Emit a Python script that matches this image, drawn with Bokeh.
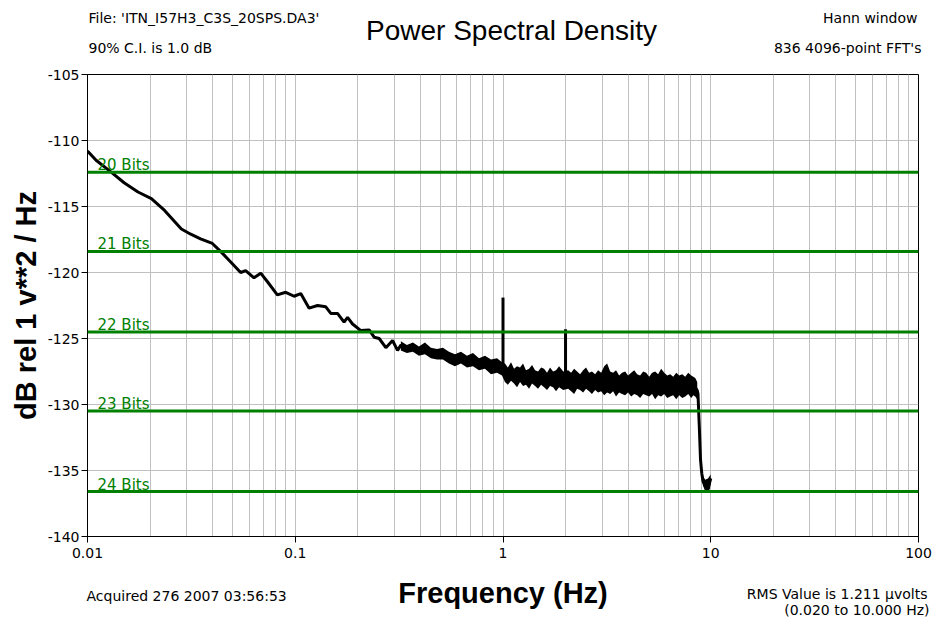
from bokeh.plotting import figure
from bokeh.models import FixedTicker, Label, Span, Range1d
from bokeh.layouts import column, row
from bokeh.core.properties import value
from bokeh.embed import file_html
from bokeh.resources import INLINE

# ---------------- data ----------------
x_major = [0.01, 0.1, 1, 10, 100]
x_tick_labels = ["0.01", "0.1", "1", "10", "100"]
x_minor = [m * d for d in [0.01, 0.1, 1, 10] for m in [2, 3, 4, 5, 6, 7, 8, 9]]
y_ticks = [-105, -110, -115, -120, -125, -130, -135, -140]
y_tick_labels = ["-105", "-110", "-115", "-120", "-125", "-130", "-135", "-140"]

bits_names = ["20 Bits", "21 Bits", "22 Bits", "23 Bits", "24 Bits"]
bits_db = [-112.4, -118.4, -124.5, -130.5, -136.6]

# smooth low-frequency part of the trace
trace_f = [0.0100, 0.0110, 0.0130, 0.0150, 0.0175, 0.0203, 0.0235, 0.0283, 0.0314,
           0.0350, 0.0399, 0.0437, 0.0489, 0.0546, 0.0577, 0.0633, 0.0682, 0.0735,
           0.0820, 0.0900, 0.0987, 0.1063, 0.1166, 0.1280, 0.1403, 0.1483, 0.1597,
           0.1718, 0.1786, 0.1887, 0.2069, 0.2268, 0.2398, 0.2535, 0.2730, 0.2940,
           0.3108, 0.3224]
trace_db = [-110.8, -111.5, -112.4, -113.2, -113.9, -114.4, -115.3, -116.7, -117.1,
            -117.45, -117.8, -118.4, -119.2, -120.0, -119.85, -120.4, -120.05, -120.7,
            -121.7, -121.5, -121.8, -121.6, -122.7, -122.5, -122.6, -123.1, -123.1,
            -123.76, -123.4, -123.9, -124.4, -124.35, -124.9, -125.0, -125.7, -125.15,
            -125.9, -125.5]

# noisy part: upper / lower envelope of the trace
band_f = [0.3224, 0.3445, 0.3684, 0.3938, 0.4209, 0.4498, 0.4808, 0.5138, 0.5493,
          0.5871, 0.6275, 0.6707, 0.7169, 0.7662, 0.8190, 0.8754, 0.9357, 0.989,
          1.022, 1.055, 1.093, 1.130, 1.168, 1.208, 1.249, 1.290, 1.335, 1.380, 1.427,
          1.475, 1.525, 1.576, 1.629, 1.685, 1.742, 1.800, 1.862, 1.95,
          2.06, 2.127, 2.20, 2.274, 2.35, 2.430, 2.51, 2.597, 2.68, 2.776, 2.87, 2.967,
          3.07, 3.171, 3.28, 3.389, 3.50, 3.622, 3.74, 3.873, 4.00, 4.139, 4.28,
          4.424, 4.57, 4.728, 4.89, 5.053, 5.22, 5.401, 5.58, 5.773, 5.97, 6.172,
          6.38, 6.596, 6.82, 7.050, 7.29, 7.535, 7.79, 8.054, 8.24, 8.42, 8.61]
band_hi = [-125.2, -125.5, -125.3, -125.6, -125.3, -125.7, -125.8, -125.7, -126.0,
           -126.2, -126.0, -126.3, -126.1, -126.5, -126.3, -126.6, -126.5, -126.8,
           -126.9, -127.2, -126.8, -127.3, -127.1, -127.2, -126.9, -127.4, -127.3, -127.0, -127.4,
           -127.5, -127.2, -127.3, -127.6, -127.2, -127.5, -127.4, -127.1, -127.5,
           -127.4, -127.6, -127.3, -127.5, -127.7, -127.4, -127.2, -127.6, -127.5, -127.7, -127.4, -127.6,
           -127.1, -126.9, -127.5, -127.6, -127.4, -127.8, -127.6, -127.5, -127.8, -127.6, -127.4,
           -127.7, -127.8, -127.5, -127.6, -127.9, -127.6, -127.5, -127.7, -127.3, -127.6, -127.8,
           -127.7, -127.9, -127.6, -127.8, -127.7, -127.9, -127.6, -127.8, -127.9, -128.0, -128.3]
band_lo = [-125.9, -126.1, -126.0, -126.3, -126.2, -126.5, -126.6, -126.6, -126.9,
           -127.1, -126.9, -127.2, -127.1, -127.4, -127.3, -127.7, -127.6, -127.8,
           -128.3, -128.5, -128.2, -128.4, -128.7, -128.3, -128.6, -128.5, -128.8, -128.4, -128.6,
           -128.8, -128.5, -128.7, -128.9, -128.6, -128.7, -129.0, -128.7, -128.9,
           -128.8, -129.0, -129.2, -128.8, -128.9, -129.1, -128.8, -129.0, -129.2, -128.9, -129.1, -129.0,
           -129.3, -129.1, -129.2, -129.0, -129.4, -129.1, -129.2, -129.3, -129.1, -129.4, -129.2,
           -129.3, -129.5, -129.2, -129.3, -129.4, -129.2, -129.6, -129.3, -129.4, -129.2, -129.5,
           -129.4, -129.3, -129.6, -129.3, -129.5, -129.4, -129.2, -129.5, -129.3, -129.4, -129.6]

# anti-alias roll-off
drop_f = [8.68, 8.80, 8.93, 9.05, 9.17, 9.40, 9.69, 9.85, 10.0]
drop_db = [-129.2, -131.5, -134.2, -135.2, -135.8, -136.2, -136.3, -136.0, -135.6]
tail_f = [9.17, 9.40, 9.70, 9.90, 10.0]
tail_hi = [-135.4, -135.7, -135.6, -135.4, -135.3]
tail_lo = [-136.1, -136.6, -136.6, -136.4, -136.0]

# calibration lines
spike_f = [1.0, 2.0]
spike_base = [-127.6, -128.0]
spike_top = [-121.9, -124.3]

# header / footer texts
header_left = ["File: 'ITN_I57H3_C3S_20SPS.DA3'", "90% C.I. is 1.0 dB"]
header_right = ["Hann window", "836 4096-point FFT's"]
chart_title = "Power Spectral Density"
footer_left = "Acquired 276 2007 03:56:53"
footer_right = ["RMS Value is 1.211 \u00b5volts", "(0.020 to 10.000 Hz)"]
x_label = "Frequency (Hz)"
y_label = "dB rel 1 v**2 / Hz"

# ---------------- layout constants ----------------
W = 933
HEAD_H, FOOT_H = 60, 54
MAIN_TOP, FRAME_H, MAIN_BOT = 14, 462, 30
FL, FR = 87, 918
GREEN = "#008000"
GRID = "#c0c0c0"
SMALL = "DejaVu Sans"
BIG = "Liberation Sans"


def text_panel(h):
    f = figure(width=W, height=h, x_range=Range1d(0, W), y_range=Range1d(h, 0),
               x_axis_location=None, y_axis_location=None,
               output_backend="svg", toolbar_location=None,
               min_border_left=0, min_border_right=0, min_border_top=0, min_border_bottom=0)
    f.title.visible = False
    f.outline_line_color = None
    f.grid.visible = False
    f.background_fill_color = "white"
    f.border_fill_color = "white"
    return f


def put(f, text, x, y, align, size="14px", font=SMALL, style="normal"):
    f.text(x=[x], y=[y], text=[text], text_align=align, text_baseline="middle",
           text_font=value(font), text_font_size=value(size), text_font_style=style,
           text_color="black")


# header
head = text_panel(HEAD_H)
put(head, header_left[0], 88, 17, "left")
put(head, header_left[1], 88, 47, "left")
put(head, header_right[0], 917, 17, "right")
put(head, header_right[1], 921, 47, "right")
put(head, chart_title, 511, 30, "center", size="28px", font=BIG)

# main plot
p = figure(width=W, height=MAIN_TOP + FRAME_H + MAIN_BOT, x_axis_type="log",
           x_range=Range1d(0.01, 100), y_range=Range1d(-140, -105),
           output_backend="svg", toolbar_location=None,
           min_border_left=FL, min_border_right=W - FR,
           min_border_top=MAIN_TOP, min_border_bottom=MAIN_BOT)
p.title.visible = False
p.background_fill_color = "white"
p.border_fill_color = "white"
p.outline_line_color = "black"
p.outline_line_width = 1

p.xaxis.ticker = FixedTicker(ticks=x_major, minor_ticks=x_minor)
p.xaxis.major_label_overrides = {v: s for v, s in zip(x_major, x_tick_labels)}
p.yaxis.ticker = FixedTicker(ticks=y_ticks)
p.yaxis.major_label_overrides = {v: s for v, s in zip(y_ticks, y_tick_labels)}
for ax in (p.xaxis[0], p.yaxis[0]):
    ax.axis_line_color = "black"
    ax.major_tick_line_color = "black"
    ax.major_tick_in = 0
    ax.major_tick_out = 6
    ax.minor_tick_line_color = None
    ax.major_label_text_font = SMALL
    ax.major_label_text_font_size = "14px"
    ax.major_label_text_color = "black"
p.yaxis.major_label_standoff = 2
p.xaxis.major_label_standoff = 5
p.yaxis.axis_label = y_label
p.yaxis.axis_label_text_font = BIG
p.yaxis.axis_label_text_font_style = "bold"
p.yaxis.axis_label_text_font_size = "29px"
p.yaxis.axis_label_text_color = "black"
p.yaxis.axis_label_standoff = 3

p.xgrid.grid_line_color = GRID
p.xgrid.minor_grid_line_color = GRID
p.ygrid.grid_line_color = GRID

for name, db in zip(bits_names, bits_db):
    p.add_layout(Span(location=db, dimension="width", line_color=GREEN, line_width=3))
    p.add_layout(Label(x=0.01, y=db, x_offset=10, y_offset=7, text=name,
                       text_font=SMALL, text_font_size="15px", text_color=GREEN,
                       text_baseline="alphabetic", text_align="left"))

band_mid = [(a + b) / 2 for a, b in zip(band_hi, band_lo)]
line_f = trace_f + band_f[1:] + drop_f
line_db = trace_db + band_mid[1:] + drop_db
p.line(line_f, line_db, line_color="black", line_width=3)
p.varea(x=band_f, y1=band_lo, y2=band_hi, fill_color="black")
p.varea(x=tail_f, y1=tail_lo, y2=tail_hi, fill_color="black")
p.segment(x0=spike_f, y0=spike_base, x1=spike_f, y1=spike_top,
          line_color="black", line_width=3)

# footer
foot = text_panel(FOOT_H)
put(foot, footer_left, 86, 29, "left")
put(foot, x_label, (FL + FR) / 2, 26, "center", size="29px", font=BIG, style="bold")
put(foot, footer_right[0], 927, 27, "right")
put(foot, footer_right[1], 929, 43, "right")

# header / footer wrapped in their own rows so their frames stay full-width
layout = column(row(head, spacing=0), p, row(foot, spacing=0), spacing=0)
open("out.html", "w").write(file_html(layout, INLINE))
